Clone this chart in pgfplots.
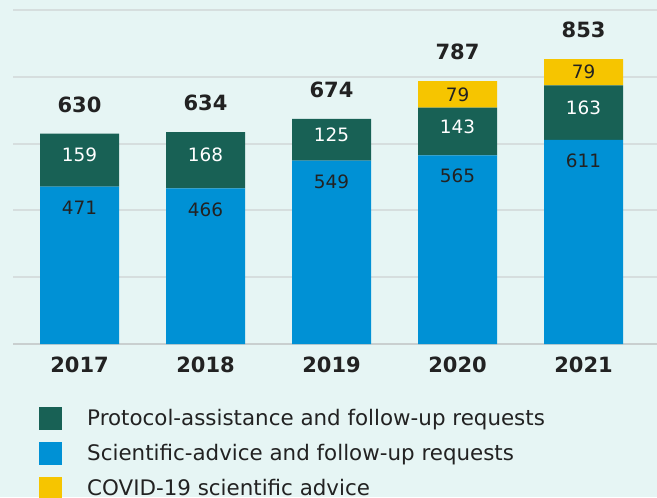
\documentclass[border=0pt]{standalone}
\usepackage{fontspec}
\setmainfont{DejaVu Sans}
\usepackage{pgfplots}
\pgfplotsset{compat=1.18}

\definecolor{bgc}{HTML}{E6F5F4}
\definecolor{cblue}{HTML}{0091D5}
\definecolor{cgreen}{HTML}{186155}
\definecolor{cyellow}{HTML}{F6C500}
\definecolor{gridc}{HTML}{D6DEDE}
\definecolor{basec}{HTML}{C9CFCF}
\definecolor{txt}{HTML}{222222}

\pgfplotsset{
  frame/.style={
    at={(0pt,0pt)}, anchor=south west,
    scale only axis, width=322pt, height=167pt,
    xmin=-0.528, xmax=4.583, ymin=0, ymax=1000,
    clip=false,
  },
}
\tikzset{seglabel/.style={font=\fontsize{9.2}{11}\selectfont, anchor=center}}
\newcommand{\segval}{\pgfmathprintnumber[assume math mode=true,fixed,precision=0]{\rawy}}

\begin{document}
\begin{tikzpicture}
\fill[bgc] (-6.5pt,-76.5pt) rectangle (322pt,172pt);
\path[use as bounding box] (-6.5pt,-76.5pt) rectangle (322pt,172pt);
\clip (-6.5pt,-76.5pt) rectangle (322pt,172pt);
\begin{axis}[
  frame,
  ybar stacked, bar width=39.5pt,
  axis lines*=left,
  y axis line style={draw=none},
  x axis line style={draw=basec, line width=1.1pt},
  xtick={0,1,2,3,4},
  xticklabels={\textbf{2017},\textbf{2018},\textbf{2019},\textbf{2020},\textbf{2021}},
  xticklabel style={font=\fontsize{10.5}{12}\selectfont, text=txt, yshift=-2.8pt},
  ytick={200,400,600,800,1000},
  yticklabels={},
  major tick length=0pt,
  ymajorgrids, grid style={draw=gridc, line width=1pt},
  visualization depends on={rawy \as \rawy},
  legend style={at={(rel axis cs:0.0404,-0.1707)}, anchor=north west,
    draw=none, fill=none, inner sep=0pt, row sep=0pt, column sep=12.5pt,
    font=\fontsize{10.7}{12}\selectfont, text=txt,
    nodes={inner sep=0pt, text height=12pt, text depth=5.5pt}},
  legend cell align=left,
]
\addlegendimage{legend image code/.code={\fill[cgreen] (0pt,-5pt) rectangle (11pt,6pt);}}
\addlegendentry{Protocol-assistance and follow-up requests}
\addlegendimage{legend image code/.code={\fill[cblue] (0pt,-5pt) rectangle (11pt,6pt);}}
\addlegendentry{Scientific-advice and follow-up requests}
\addlegendimage{legend image code/.code={\fill[cyellow] (0pt,-5pt) rectangle (11pt,6pt);}}
\addlegendentry{COVID-19 scientific advice}

% Scientific-advice
\addplot[fill=cblue, draw=none,
  nodes near coords={\segval},
  nodes near coords style={seglabel, text=txt, yshift={\rawy*0.0835pt-10.5pt}}]
  coordinates {(0,471) (1,466) (2,549) (3,565) (4,611)};
% Protocol-assistance
\addplot[fill=cgreen, draw=none,
  nodes near coords={\segval},
  nodes near coords style={seglabel, text=white, yshift=2.5pt}]
  coordinates {(0,159) (1,168) (2,125) (3,143) (4,163)};
% COVID-19
\addplot[fill=cyellow, draw=none,
  nodes near coords={\ifdim\rawy pt>0pt \segval\fi},
  nodes near coords style={seglabel, text=txt}]
  coordinates {(0,0) (1,0) (2,0) (3,79) (4,79)};
\end{axis}
% totals above the bars
\begin{axis}[frame, hide axis]
\addplot[draw=none, mark=none, point meta=explicit,
  nodes near coords={\textbf{\pgfmathprintnumber[assume math mode=true]{\pgfplotspointmeta}}},
  nodes near coords style={anchor=center, text=txt, font=\fontsize{10.5}{12}\selectfont, yshift=14.5pt}]
  coordinates {(0,630) [630] (1,634) [634] (2,674) [674] (3,787) [787] (4,853) [853]};
\end{axis}
\end{tikzpicture}
\end{document}
